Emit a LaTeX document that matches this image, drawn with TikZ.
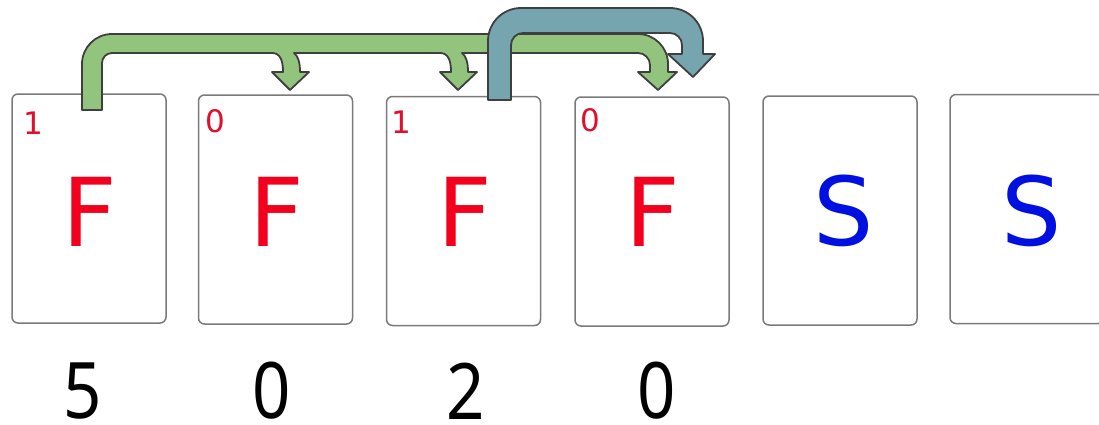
\documentclass[tikz,border=0pt]{standalone}
\usepackage{fontspec}
\newfontfamily\cardfont{DejaVu Sans}
\newfontfamily\countfont[FakeStretch=0.86]{Noto Sans}
\definecolor{cardedge}{HTML}{7A7A7A}
\definecolor{suitred}{HTML}{F2001E}
\definecolor{suitblue}{HTML}{0010E0}
\definecolor{tagred}{HTML}{E0102A}
\definecolor{hopgreen}{HTML}{93C47D}
\definecolor{hopblue}{HTML}{76A5AF}
\definecolor{hopedge}{HTML}{3F3F3F}
\tikzset{
  card/.style={draw=cardedge, line width=1.5pt, rounded corners=6pt, fill=white,
    minimum width=154pt, minimum height=229pt, inner sep=0pt},
  face/.style={inner sep=0pt, font=\cardfont\fontsize{95}{95}\selectfont},
  tag/.style={anchor=north west, inner sep=0pt, text=tagred,
    font=\cardfont\fontsize{31}{31}\selectfont},
  count/.style={inner sep=0pt, font=\countfont\fontsize{78}{78}\selectfont},
  hop/.style={draw=hopedge, line width=1.8pt, line join=round},
}
\begin{document}
\begin{tikzpicture}[x=1pt,y=1pt]
\useasboundingbox (0,0) rectangle (1099,-424);
\clip (0,0) rectangle (1099,-424);

% the six cards
\node[card] (c1) at (89,-208.5) {};
\node[card] (c2) at (275.5,-209.5) {};
\node[card] (c3) at (463.5,-211) {};
\node[card] (c4) at (652,-211.5) {};
\node[card] (c5) at (840,-210.5) {};
\node[card] (c6) at (1027,-209) {};

% card faces
\node[face, text=suitred] (f1) at (90,-211.5) {F};
\node[face, text=suitred] (f2) at (276.5,-211.5) {F};
\node[face, text=suitred] (f3) at (464.5,-211.5) {F};
\node[face, text=suitred] (f4) at (653,-211.5) {F};
\node[face, text=suitblue] (f5) at (844,-211) {S};
\node[face, text=suitblue] (f6) at (1031.5,-211) {S};

% corner tags
\node[tag] (t1) at (23.5,-112) {1};
\node[tag] (t2) at (205,-109.5) {0};
\node[tag] (t3) at (391.5,-110.5) {1};
\node[tag] (t4) at (580,-108.5) {0};

% counts below the cards
\node[count] (n1) at (82.5,-391) {5};
\node[count] (n2) at (272,-391) {0};
\node[count] (n3) at (466,-391) {2};
\node[count] (n4) at (657,-391) {0};

% green jump arrow with two side branches
\draw[hop, fill=hopgreen]
  (82,-110) -- (82,-64) arc[start angle=180, end angle=90, radius=30]
  -- (638,-34) arc[start angle=90, end angle=0, radius=30]
  -- (668,-72) -- (677,-72) -- (658,-90) -- (638,-72) -- (650,-72)
  -- (650,-65) arc[start angle=0, end angle=90, radius=12]
  -- (462,-53) .. controls (466,-56) and (468,-62) .. (468,-72)
  -- (477,-72) -- (458,-90) -- (440,-72) -- (451,-72)
  .. controls (451,-60) and (448,-53) .. (440,-53)
  -- (294,-53) .. controls (298,-56) and (300,-62) .. (300,-72)
  -- (309,-72) -- (290,-90) -- (272,-72) -- (283,-72)
  .. controls (283,-60) and (280,-53) .. (272,-53)
  -- (112,-53) arc[start angle=90, end angle=180, radius=10]
  -- (102,-110) -- cycle;

% blue jump arrow
\draw[hop, fill=hopblue]
  (488,-100) -- (488,-41) arc[start angle=180, end angle=90, radius=33]
  -- (670,-8) arc[start angle=90, end angle=0, radius=33]
  -- (703,-54) -- (715,-54) -- (693,-77) -- (668,-54) -- (682,-54)
  -- (682,-45) arc[start angle=0, end angle=90, radius=12]
  -- (523,-33) arc[start angle=90, end angle=180, radius=12]
  -- (511,-100) -- cycle;
\end{tikzpicture}
\end{document}
